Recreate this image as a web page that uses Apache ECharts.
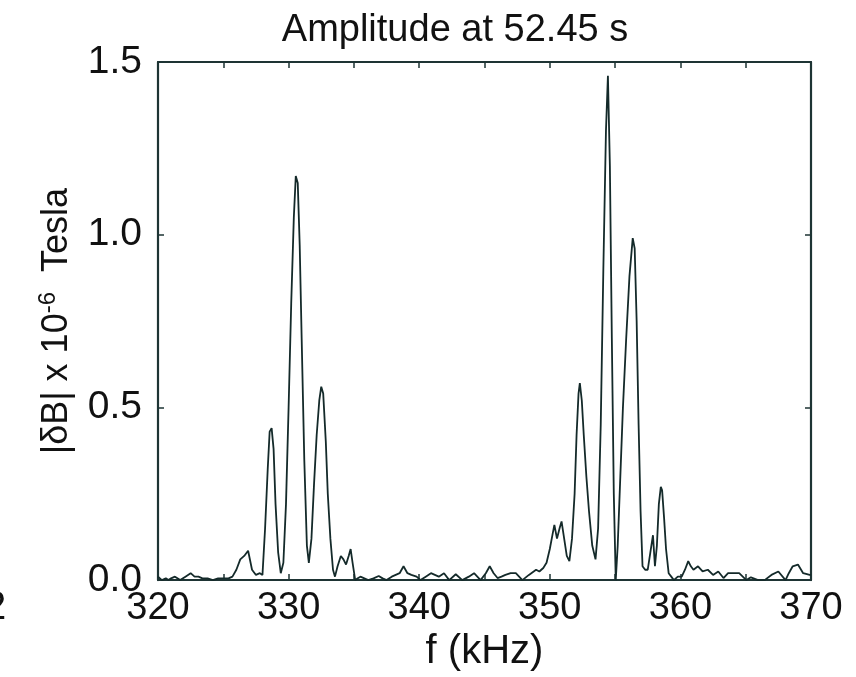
<!DOCTYPE html>
<html>
<head>
<meta charset="utf-8">
<script src="https://cdn.jsdelivr.net/npm/echarts@6/dist/echarts.min.js"></script>
<style>
html,body{margin:0;padding:0;background:#fff;}
#chart{width:856px;height:677px;}
</style>
</head>
<body>
<div id="chart"></div>
<script>
// Frequency (kHz) samples
var freq = [320.0,320.3,320.6,320.8,321.0,321.3,321.7,322.1,322.5,322.8,323.1,323.4,323.8,324.2,324.6,325.0,325.4,325.7,326.0,326.3,326.6,326.9,327.2,327.5,327.8,328.0,328.2,328.4,328.55,328.7,328.85,329.0,329.2,329.4,329.6,329.8,330.0,330.2,330.4,330.55,330.7,330.85,331.0,331.2,331.4,331.55,331.75,331.95,332.15,332.35,332.5,332.65,332.85,333.0,333.2,333.4,333.55,333.75,334.0,334.2,334.4,334.6,334.75,334.9,335.1,335.3,335.5,335.8,336.1,336.5,336.9,337.2,337.5,337.9,338.2,338.5,338.8,339.1,339.4,339.8,340.1,340.5,340.9,341.2,341.5,341.9,342.3,342.8,343.3,343.8,344.2,344.7,345.1,345.4,345.7,346.0,346.3,346.6,347.0,347.4,347.9,348.4,348.95,349.2,349.5,349.75,350.0,350.2,350.35,350.55,350.75,350.9,351.1,351.3,351.5,351.7,351.9,352.05,352.2,352.3,352.45,352.6,352.8,353.0,353.25,353.5,353.7,353.9,354.1,354.3,354.45,354.6,354.75,354.9,355.05,355.2,355.4,355.6,355.85,356.1,356.35,356.5,356.65,356.8,356.95,357.1,357.3,357.5,357.7,357.9,358.05,358.2,358.35,358.5,358.6,358.75,358.9,359.1,359.3,359.5,359.8,360.1,360.35,360.6,360.8,361.0,361.35,361.7,362.1,362.5,362.9,363.3,363.65,364.0,364.5,365.05,365.4,365.95,366.45,366.97,367.5,368.05,368.3,368.6,369.0,369.4,369.9,370.0];
// |dB| amplitude (x 1e-6 Tesla)
var amp = [0.01,0.0,0.005,0.0,0.005,0.01,0.0,0.01,0.02,0.01,0.01,0.005,0.005,0.0,0.005,0.005,0.005,0.01,0.03,0.06,0.07,0.085,0.03,0.015,0.02,0.015,0.15,0.32,0.43,0.44,0.38,0.22,0.08,0.02,0.05,0.22,0.5,0.8,1.05,1.17,1.15,0.97,0.7,0.35,0.1,0.05,0.12,0.28,0.42,0.52,0.56,0.54,0.4,0.25,0.12,0.03,0.01,0.04,0.07,0.06,0.045,0.07,0.09,0.05,0.0,0.005,0.01,0.005,0.0,0.005,0.012,0.005,0.0,0.01,0.015,0.02,0.04,0.02,0.015,0.01,0.0,0.01,0.02,0.015,0.01,0.02,0.0,0.017,0.0,0.01,0.02,0.0,0.02,0.04,0.02,0.006,0.01,0.015,0.02,0.02,0.0,0.015,0.03,0.025,0.035,0.05,0.09,0.13,0.16,0.12,0.15,0.17,0.12,0.07,0.055,0.12,0.25,0.42,0.54,0.57,0.52,0.42,0.3,0.2,0.1,0.06,0.15,0.45,0.9,1.3,1.46,1.2,0.7,0.25,0.0,0.1,0.3,0.5,0.7,0.88,0.99,0.96,0.75,0.45,0.2,0.04,0.03,0.03,0.08,0.13,0.04,0.1,0.22,0.27,0.26,0.18,0.09,0.02,0.01,0.0,0.01,0.01,0.03,0.055,0.04,0.03,0.04,0.025,0.03,0.015,0.025,0.006,0.02,0.02,0.02,0.0,0.008,0.0,0.0,0.015,0.025,0.0,0.02,0.04,0.045,0.02,0.015,0.015];

var titleText = 'Amplitude at 52.45 s';
var xName = 'f (kHz)';

var pts = freq.map(function(f, i){ return [f, amp[i]]; });
var ink = '#142a2a';
var frame = '#1e3434';
var font = '"Liberation Sans", Arial, Helvetica, sans-serif';

var chart = echarts.init(document.getElementById('chart'));
chart.setOption({
  backgroundColor: '#ffffff',
  animation: false,
  grid: {left: 158, right: 45, top: 62, bottom: 96},
  xAxis: [{
    type: 'value', min: 320, max: 370, interval: 5,
    name: xName, nameLocation: 'middle', nameGap: 42,
    nameTextStyle: {fontFamily: font, fontSize: 40, color: '#111'},
    axisLine: {show: true, onZero: false, lineStyle: {color: frame, width: 2.2}},
    axisTick: {show: true, inside: true, length: 6, lineStyle: {color: frame, width: 1.5}},
    axisLabel: {fontFamily: font, fontSize: 38, color: '#111', margin: 9,
      formatter: function(v){ return (v % 10 === 0) ? String(v) : ''; }},
    splitLine: {show: false}
  }, {
    type: 'value', min: 320, max: 370, interval: 5, position: 'top',
    axisLine: {show: true, onZero: false, lineStyle: {color: frame, width: 2.2}},
    axisTick: {show: true, inside: true, length: 6, lineStyle: {color: frame, width: 1.5}},
    axisLabel: {show: false}, splitLine: {show: false}
  }],
  yAxis: [{
    type: 'value', min: 0, max: 1.5, interval: 0.5,
    name: '|δB| x 10{sup|-6}  Tesla', nameLocation: 'middle', nameGap: 80, nameRotate: 90,
    nameTextStyle: {fontFamily: font, fontSize: 36, color: '#111',
      rich: {sup: {fontFamily: font, fontSize: 24, color: '#111', padding: [0, 0, 18, 0]}}},
    axisLine: {show: true, onZero: false, lineStyle: {color: frame, width: 2.2}},
    axisTick: {show: true, inside: true, length: 6, lineStyle: {color: frame, width: 1.5}},
    axisLabel: {fontFamily: font, fontSize: 39, color: '#111', margin: 16,
      formatter: function(v){ return v.toFixed(1); }},
    splitLine: {show: false}
  }, {
    type: 'value', min: 0, max: 1.5, interval: 0.5, position: 'right',
    axisLine: {show: true, onZero: false, lineStyle: {color: frame, width: 2.2}},
    axisTick: {show: true, inside: true, length: 6, lineStyle: {color: frame, width: 1.5}},
    axisLabel: {show: false}, splitLine: {show: false}
  }],
  graphic: [{
    type: 'text', x: 455, y: 31,
    style: {text: titleText, fontFamily: font, fontSize: 38, fill: '#111',
      textAlign: 'center', textVerticalAlign: 'middle'}
  }, {
    type: 'text', left: -16, top: 588,
    style: {text: '2', fontFamily: font, fontSize: 40, fill: '#111'}
  }],
  series: [{
    type: 'line', data: pts, xAxisIndex: 0, yAxisIndex: 0,
    showSymbol: false, smooth: false,
    lineStyle: {color: ink, width: 1.8},
    clip: true
  }]
});
</script>
</body>
</html>
